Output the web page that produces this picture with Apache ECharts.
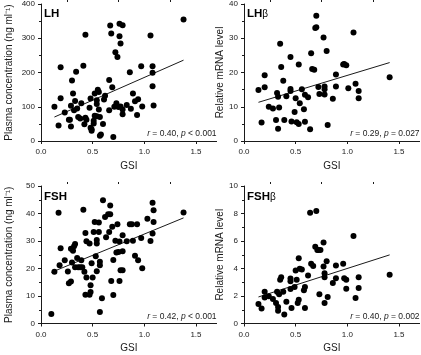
<!DOCTYPE html>
<html>
<head>
<meta charset="utf-8">
<script src="https://cdn.jsdelivr.net/npm/echarts@6/dist/echarts.min.js"></script>
<style>
  html, body { margin: 0; padding: 0; background: #fff; }
  #chart { width: 421px; height: 355px; }
</style>
</head>
<body>
<div id="chart"></div>
<script>
// GSI vs plasma LH / FSH and pituitary LHβ / FSHβ mRNA
const lhPoints = [[0.13,100],[0.17,45],[0.19,125],[0.19,215],[0.23,83],[0.27,62],[0.28,62],[0.29,103],[0.29,42],[0.30,177],[0.31,139],[0.32,90],[0.33,117],[0.34,202],[0.35,95],[0.36,70],[0.38,66],[0.39,110],[0.41,220],[0.42,49],[0.43,68],[0.43,310],[0.44,62],[0.47,97],[0.48,39],[0.48,124],[0.49,34],[0.49,30],[0.51,51],[0.51,59],[0.52,74],[0.52,139],[0.54,119],[0.54,108],[0.54,72],[0.55,150],[0.56,92],[0.56,143],[0.57,70],[0.57,15],[0.58,19],[0.60,50],[0.61,121],[0.62,132],[0.66,90],[0.66,178],[0.67,337],[0.68,314],[0.69,157],[0.70,12],[0.71,100],[0.72,259],[0.73,110],[0.74,245],[0.75,99],[0.76,342],[0.76,306],[0.77,285],[0.77,101],[0.79,338],[0.79,92],[0.79,78],[0.83,105],[0.86,201],[0.87,94],[0.89,139],[0.91,116],[0.93,76],[0.94,122],[0.97,218],[0.98,101],[1.06,308],[1.08,218],[1.08,199],[1.08,160],[1.09,104],[1.38,355]];
const lhbPoints = [[0.14,14.9],[0.17,5.4],[0.20,15.7],[0.20,19.2],[0.24,10],[0.28,9.5],[0.31,6.1],[0.32,14],[0.33,3.6],[0.33,12.9],[0.34,9.8],[0.35,28.4],[0.36,21.6],[0.38,17.6],[0.39,6.1],[0.41,13.1],[0.45,24.5],[0.45,15.2],[0.45,14.6],[0.46,5.7],[0.49,8.5],[0.50,12.5],[0.51,5.5],[0.53,22.3],[0.54,11],[0.53,5],[0.56,15.1],[0.58,9.3],[0.59,13.5],[0.59,5.6],[0.62,12.8],[0.64,3.4],[0.65,25.6],[0.66,21],[0.68,20.8],[0.69,33],[0.70,36.6],[0.70,33.2],[0.72,15.8],[0.73,13.7],[0.77,30.2],[0.78,15.9],[0.78,15.1],[0.78,13.6],[0.80,26.3],[0.81,4.7],[0.86,12.3],[0.89,15.9],[0.89,19.4],[0.96,22.3],[0.97,22.5],[0.99,22.1],[1.01,15.4],[1.06,31.7],[1.08,16.7],[1.11,12.5],[1.11,14.6],[1.41,18.6]];
const fshPoints = [[0.10,3.5],[0.13,18.8],[0.17,40.3],[0.18,21.2],[0.19,27.4],[0.23,23],[0.26,18.9],[0.27,14.6],[0.29,15.3],[0.29,27.2],[0.30,22.2],[0.31,26.5],[0.32,28.1],[0.33,28.9],[0.33,20.5],[0.35,23.8],[0.36,20.5],[0.38,20.5],[0.39,23],[0.40,20.5],[0.41,41.4],[0.42,18.8],[0.43,32.9],[0.43,10.5],[0.44,16.7],[0.44,29.9],[0.47,29.1],[0.47,10.5],[0.48,11.5],[0.48,13.9],[0.49,21.9],[0.50,16.7],[0.51,33.3],[0.52,36.9],[0.53,24.5],[0.54,30.4],[0.54,29.1],[0.54,19],[0.56,36.7],[0.56,33.3],[0.57,21.2],[0.57,22.5],[0.57,4.2],[0.59,9.2],[0.60,44.8],[0.62,38.7],[0.63,31.4],[0.65,39.7],[0.66,33.3],[0.67,39.7],[0.67,42.9],[0.68,15.5],[0.69,35.2],[0.70,10.4],[0.70,23.1],[0.72,30.1],[0.73,25.8],[0.74,36.1],[0.75,26],[0.76,29.8],[0.76,15.5],[0.77,19.4],[0.79,19.4],[0.79,26.3],[0.79,32.1],[0.83,29.9],[0.86,36.1],[0.88,36.1],[0.89,30.1],[0.91,24.6],[0.93,36.1],[0.94,23],[0.97,31.1],[0.98,20.1],[1.03,38.1],[1.06,30],[1.08,43.9],[1.08,32.7],[1.09,41.2],[1.09,36.9],[1.38,40.4]];
const fshbPoints = [[0.14,1.42],[0.17,1.1],[0.20,2.31],[0.20,1.9],[0.24,1.98],[0.28,1.78],[0.31,1.49],[0.32,2.31],[0.33,0.92],[0.33,1.2],[0.34,2.12],[0.35,3.18],[0.36,3.37],[0.38,2.31],[0.39,0.65],[0.41,1.59],[0.45,3.28],[0.45,3.08],[0.45,2.51],[0.46,1.13],[0.49,2.65],[0.50,3.86],[0.51,3.18],[0.53,4.75],[0.54,3.98],[0.53,1.73],[0.52,1.5],[0.56,3.93],[0.58,2.41],[0.59,2.65],[0.59,1.13],[0.62,3.49],[0.64,8.05],[0.65,4.34],[0.67,4.19],[0.70,8.19],[0.69,5.59],[0.71,5.35],[0.72,5.35],[0.73,2.12],[0.74,5.35],[0.77,5.9],[0.77,4.14],[0.78,3.66],[0.78,3.37],[0.78,1.49],[0.80,4.53],[0.81,1.93],[0.86,2.94],[0.89,4.22],[0.89,3.3],[0.96,4.34],[0.97,3.3],[0.99,3.18],[0.99,2.53],[1.06,6.36],[1.08,1.86],[1.11,2.58],[1.11,3.37],[1.41,3.54]];

// regression line end points
const lhFit = [[0.13,70],[1.38,236]];
const lhbFit = [[0.14,11.3],[1.41,22.9]];
const fshFit = [[0.10,18.6],[1.38,38.4]];
const fshbFit = [[0.14,1.93],[1.41,4.99]];

const panelNames = ['LH', 'LHβ', 'FSH', 'FSHβ'];
const statTexts = ['r = 0.40, p < 0.001', 'r = 0.29, p = 0.027', 'r = 0.42, p < 0.001', 'r = 0.40, p = 0.002'];
const yTitles = ['Plasma concentration (ng ml⁻¹)', 'Relative mRNA level', 'Plasma concentration (ng ml⁻¹)', 'Relative mRNA level'];
const yMax = [400, 40, 50, 10];
const yStep = [100, 10, 10, 2];
const xMajorTicks = [0, 0.5, 1.0, 1.5];
const xMinorTicks = [0.25, 0.75, 1.25];

const font = "'Liberation Sans', Arial, Helvetica, sans-serif";
const ink = '#1a1a1a';
const pointsList = [lhPoints, lhbPoints, fshPoints, fshbPoints];
const fitList = [lhFit, lhbFit, fshFit, fshbFit];

const gridPos = [
  { left: 41, top: 3, width: 175.6, height: 138 },
  { left: 244, top: 3, width: 175.6, height: 138 },
  { left: 41, top: 186, width: 175.6, height: 137.5 },
  { left: 244, top: 186, width: 175.6, height: 137.5 },
];
const yNameGap = [24, 16, 24, 16];

const chart = echarts.init(document.getElementById('chart'), null, { renderer: 'canvas' });

const grids = [];
const xAxes = [];
const yAxes = [];
const series = [];
const titles = [];

gridPos.forEach((g, i) => {
  grids.push(Object.assign({ containLabel: false }, g));

  // main x axis: line, major ticks, labels
  xAxes.push({
    gridIndex: i,
    type: 'value',
    min: 0,
    max: 1.7,
    offset: 2,
    name: 'GSI',
    nameLocation: 'middle',
    nameGap: 18,
    nameTextStyle: { fontFamily: font, fontSize: 10, color: ink },
    axisLine: { show: true, lineStyle: { color: ink, width: 1 } },
    axisTick: { show: true, length: 3, customValues: xMajorTicks, lineStyle: { color: ink } },
    axisLabel: {
      customValues: xMajorTicks,
      margin: 5,
      fontFamily: font,
      fontSize: 8,
      color: ink,
      formatter: (v) => v.toFixed(1),
    },
    splitLine: { show: false },
  });
  // overlay axis for minor ticks
  xAxes.push({
    gridIndex: i,
    type: 'value',
    min: 0,
    max: 1.7,
    offset: 2,
    axisLine: { show: false },
    axisTick: { show: true, length: 2, customValues: xMinorTicks, lineStyle: { color: ink } },
    axisLabel: { show: false },
    splitLine: { show: false },
  });

  yAxes.push({
    gridIndex: i,
    type: 'value',
    min: 0,
    max: yMax[i],
    interval: yStep[i],
    offset: 3,
    name: yTitles[i],
    nameLocation: 'middle',
    nameGap: yNameGap[i],
    nameTextStyle: { fontFamily: font, fontSize: 10, color: ink },
    axisLine: { show: true, lineStyle: { color: ink, width: 1 } },
    axisTick: { show: true, length: 3, lineStyle: { color: ink } },
    minorTick: { show: true, splitNumber: 2, length: 2, lineStyle: { color: ink } },
    axisLabel: { margin: 3, fontFamily: font, fontSize: 8, color: ink },
    splitLine: { show: false },
  });

  series.push({
    type: 'scatter',
    xAxisIndex: i * 2,
    yAxisIndex: i,
    symbol: 'circle',
    symbolSize: 6,
    itemStyle: { color: '#000', opacity: 1 },
    data: pointsList[i],
    silent: true,
  });
  series.push({
    type: 'line',
    xAxisIndex: i * 2,
    yAxisIndex: i,
    symbol: 'none',
    lineStyle: { color: '#000', width: 0.9 },
    data: fitList[i],
    silent: true,
    z: 1,
  });

  // panel label (bold letters, normal beta)
  const name = panelNames[i];
  const base = name.replace('β', '');
  titles.push({
    left: g.left + 3,
    top: g.top + 5,
    text: name.includes('β') ? `{b|${base}}{n|β}` : `{b|${base}}`,
    textStyle: {
      rich: {
        b: { fontFamily: font, fontSize: 11.5, fontWeight: 'bold', color: '#000' },
        n: { fontFamily: font, fontSize: 10, fontWeight: 'normal', color: '#000' },
      },
    },
    padding: 0,
  });

  // r and p statistic text, italic letters
  const parts = statTexts[i].split(', ');
  const rTxt = parts[0].replace('r', '');
  const pTxt = parts[1].replace('p', '');
  titles.push({
    right: 421 - (g.left + g.width),
    top: g.top + g.height - 11.5,
    text: `{i|r}{t|${rTxt}, }{i|p}{t|${pTxt}}`,
    textStyle: {
      fontWeight: 'normal',
      rich: {
        i: { fontFamily: font, fontSize: 8.5, fontStyle: 'italic', fontWeight: 'normal', color: ink },
        t: { fontFamily: font, fontSize: 8.5, fontWeight: 'normal', color: ink },
      },
    },
    padding: 0,
  });
});

const option = {
  backgroundColor: '#fff',
  animation: false,
  textStyle: { fontFamily: font },
  title: titles,
  grid: grids,
  xAxis: xAxes,
  yAxis: yAxes,
  series: series,
};

chart.setOption(option);
</script>
</body>
</html>
